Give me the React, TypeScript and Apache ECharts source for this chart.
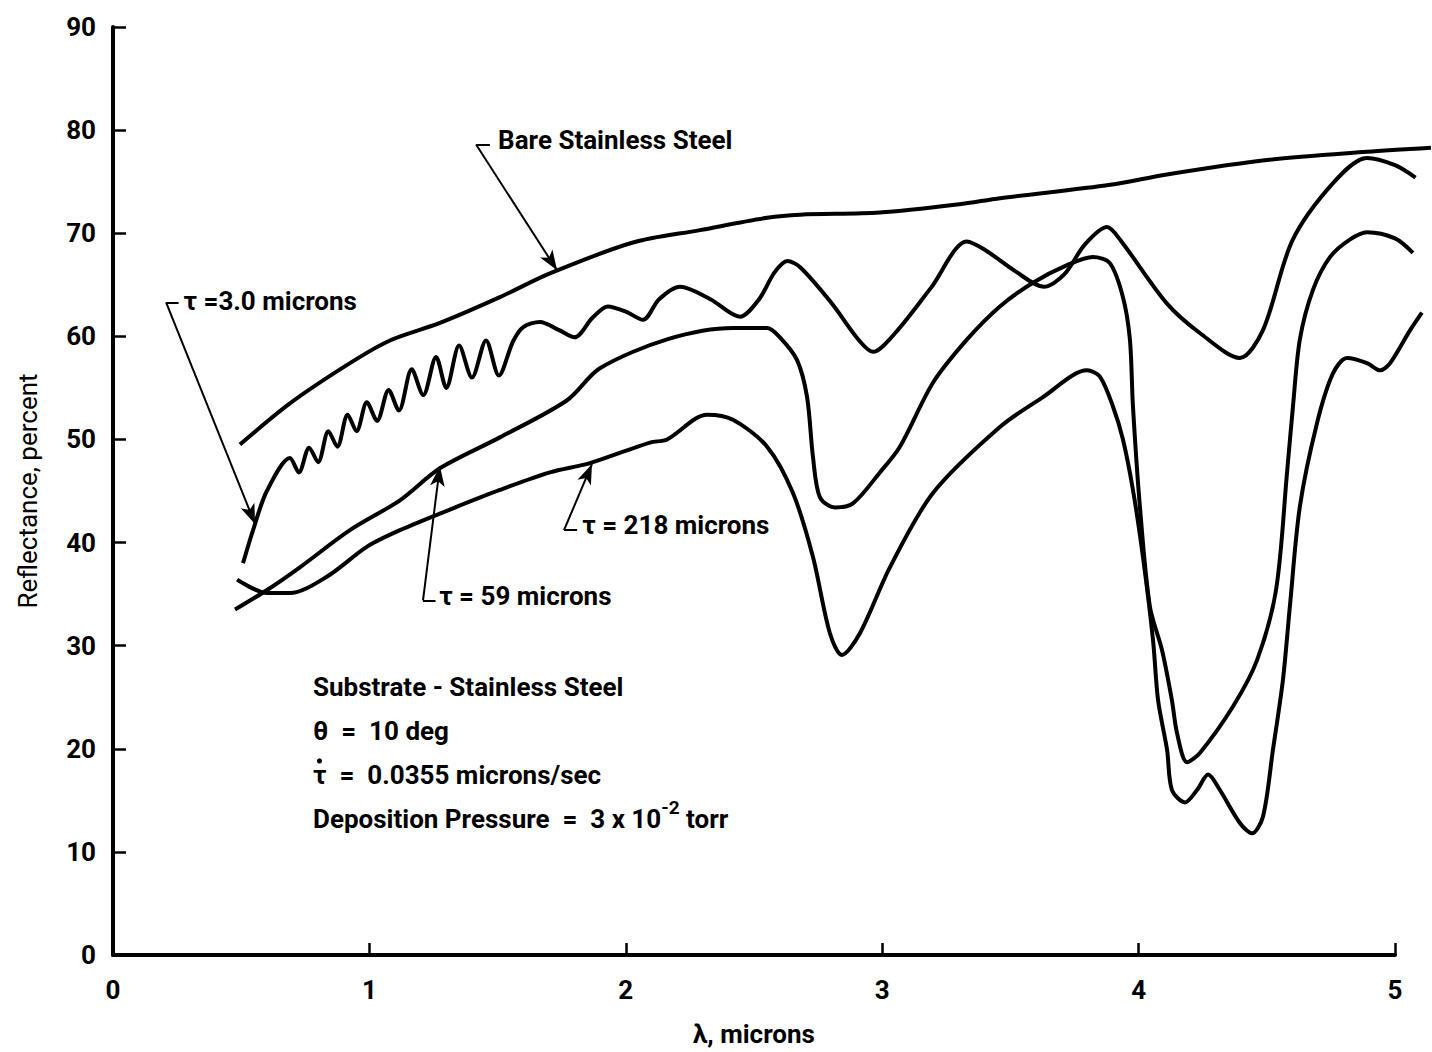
import React, { useEffect, useRef } from "react";
import * as echarts from "echarts";

// Wavelength (microns) vs reflectance (percent)
const bareSteel: [number, number][] = [
  [0.495, 49.5], [0.69, 53.5], [0.924, 57.4], [1.08, 59.6], [1.275, 61.3],
  [1.509, 63.8], [1.704, 66.1], [2.028, 69.1], [2.289, 70.3], [2.551, 71.5],
  [2.68, 71.8], [2.99, 72.0], [3.3, 72.8], [3.46, 73.4], [3.89, 74.7],
  [4.11, 75.7], [4.5, 77.1], [4.89, 77.9], [5.14, 78.3],
];

const tau3: [number, number][] = [
  [0.507, 38.0], [0.55, 41.5], [0.6, 45.0], [0.69, 48.2], [0.725, 46.8],
  [0.765, 49.2], [0.8, 47.8], [0.84, 50.8], [0.875, 49.3], [0.915, 52.4],
  [0.95, 50.8], [0.99, 53.6], [1.03, 51.8], [1.075, 54.8], [1.115, 52.8],
  [1.165, 56.8], [1.21, 54.3], [1.26, 58.0], [1.3, 55.0], [1.35, 59.1],
  [1.4, 56.0], [1.455, 59.6], [1.505, 56.2], [1.56, 59.5], [1.6, 60.9],
  [1.665, 61.4], [1.74, 60.6], [1.8, 59.9], [1.87, 61.8], [1.93, 62.9],
  [2.0, 62.4], [2.067, 61.6], [2.13, 63.6], [2.211, 64.8], [2.33, 63.6],
  [2.445, 61.9], [2.52, 63.6], [2.58, 66.2], [2.63, 67.3], [2.68, 66.7],
  [2.8, 63.3], [2.91, 59.6], [2.964, 58.5], [3.05, 60.3], [3.19, 64.7],
  [3.33, 69.2], [3.4, 68.4], [3.52, 66.3], [3.63, 64.8], [3.71, 66.0],
  [3.79, 68.9], [3.877, 70.6], [3.93, 69.3], [4.11, 63.2], [4.24, 60.3],
  [4.395, 57.9], [4.485, 60.6], [4.6, 69.3], [4.76, 74.9], [4.89, 77.3],
  [5.0, 76.6], [5.08, 75.4],
];

const tau59: [number, number][] = [
  [0.476, 33.5], [0.601, 35.4], [0.729, 37.6], [0.924, 41.2], [1.119, 44.1],
  [1.275, 47.2], [1.509, 50.2], [1.771, 53.8], [1.899, 56.9], [2.161, 59.7],
  [2.418, 60.8], [2.551, 60.8], [2.601, 59.9], [2.668, 57.7], [2.707, 54.1],
  [2.73, 48.3], [2.757, 44.4], [2.816, 43.4], [2.886, 43.8], [2.991, 46.8],
  [3.069, 49.3], [3.198, 55.5], [3.331, 59.7], [3.459, 62.9], [3.588, 65.2],
  [3.721, 66.9], [3.822, 67.7], [3.888, 67.1], [3.939, 63.8], [3.966, 59.7],
  [3.978, 53.2], [4.005, 43.5], [4.044, 33.8], [4.091, 29.6], [4.13, 24.7],
  [4.15, 21.5], [4.189, 18.7], [4.239, 19.6], [4.368, 24.1], [4.462, 28.6],
  [4.536, 35.4], [4.579, 46.8], [4.602, 53.2], [4.629, 59.7], [4.68, 64.5],
  [4.747, 67.7], [4.825, 69.4], [4.891, 70.1], [5.0, 69.5], [5.07, 68.1],
];

const tau218: [number, number][] = [
  [0.484, 36.4], [0.601, 35.1], [0.69, 35.1], [0.835, 36.7], [0.991, 39.6],
  [1.119, 41.2], [1.314, 43.2], [1.509, 45.1], [1.704, 46.8], [1.86, 47.7],
  [2.094, 49.7], [2.161, 50.0], [2.317, 52.4], [2.418, 51.9], [2.551, 49.3],
  [2.652, 44.8], [2.73, 38.6], [2.796, 31.2], [2.843, 29.1], [2.913, 31.2],
  [3.03, 37.6], [3.198, 44.8], [3.459, 51.2], [3.627, 54.1], [3.799, 56.7],
  [3.849, 56.1], [3.9, 53.2], [3.939, 50.0], [3.978, 45.1], [4.017, 38.6],
  [4.056, 30.6], [4.076, 24.7], [4.111, 19.9], [4.13, 16.0], [4.181, 14.8],
  [4.228, 16.0], [4.271, 17.5], [4.317, 16.0], [4.395, 12.8], [4.442, 11.8],
  [4.485, 13.4], [4.524, 19.9], [4.563, 26.7], [4.59, 33.8], [4.629, 43.5],
  [4.696, 51.6], [4.758, 56.4], [4.813, 57.9], [4.891, 57.4], [4.942, 56.7],
  [4.981, 57.4], [5.059, 60.6], [5.105, 62.3],
];

const xTickValues = [0, 1, 2, 3, 4, 5];
const yTickValues = [0, 10, 20, 30, 40, 50, 60, 70, 80, 90];

// Curve labels with leader lines (data coordinates)
const curveLabels = [
  { text: "Bare Stainless Steel", at: [1.502, 79.0], corner: [1.416, 78.6], tickEnd: [1.47, 78.6], tip: [1.732, 66.4] },
  { text: "τ =3.0 microns", at: [0.275, 63.4], corner: [0.207, 63.3], tickEnd: [0.256, 63.3], tip: [0.554, 41.8] },
  { text: "τ = 59 microns", at: [1.272, 34.8], corner: [1.209, 34.4], tickEnd: [1.258, 34.4], tip: [1.275, 47.4] },
  { text: "τ = 218 microns", at: [1.83, 41.7], corner: [1.759, 41.2], tickEnd: [1.81, 41.2], tip: [1.868, 47.6] },
];

const conditions = [
  "Substrate - Stainless Steel",
  "θ  =  10 deg",
  "τ  =  0.0355 microns/sec",
];
const pressureLine = "Deposition Pressure  =  3 x 10{sup|-2} torr";

const FONT = "Roboto, 'Liberation Sans', sans-serif";

// grid geometry
const PLOT_LEFT = 113;
const PLOT_RIGHT_GAP = 37;
const PAGE_W = 1432;
const X_MAX = 5;
const X_MAX_WIDE = (X_MAX * (PAGE_W - PLOT_LEFT)) / (PAGE_W - PLOT_LEFT - PLOT_RIGHT_GAP);

export default function App() {
  const ref = useRef<HTMLDivElement>(null);
  useEffect(() => {
    if (!ref.current) return;
    const chart = echarts.init(ref.current, null, { renderer: "svg" });
    const curve = (name: string, data: [number, number][]) => ({
      name,
      type: "line",
      xAxisIndex: 1,
      yAxisIndex: 1,
      data,
      showSymbol: false,
      smooth: 0.3,
      clip: false,
      lineStyle: { color: "#000", width: 4 },
      z: 3,
    });
    const leaderData: any[] = [];
    curveLabels.forEach((c) => {
      leaderData.push([
        { coord: c.corner, symbol: "none" },
        { coord: c.tickEnd, symbol: "none" },
      ]);
      leaderData.push([
        { coord: c.corner, symbol: "none" },
        { coord: c.tip, symbol: "arrow", symbolSize: [11, 20] },
      ]);
    });
    const series: any[] = [
      curve("Bare Stainless Steel", bareSteel),
      curve("τ = 3.0 microns", tau3),
      curve("τ = 59 microns", tau59),
      curve("τ = 218 microns", tau218),
    ];
    series[0].markLine = {
      silent: true,
      animation: false,
      label: { show: false },
      lineStyle: { color: "#000", width: 2, type: "solid" },
      emphasis: { disabled: true },
      data: leaderData,
    };
    const hiddenAxis = {
      show: false,
      axisLine: { show: false },
      axisTick: { show: false },
      axisLabel: { show: false },
      splitLine: { show: false },
    };
    chart.setOption({
      animation: false,
      backgroundColor: "#fff",
      grid: [
        { left: PLOT_LEFT, right: PLOT_RIGHT_GAP, top: 27, bottom: 97, containLabel: false },
        { left: PLOT_LEFT, right: 0, top: 27, bottom: 97, containLabel: false },
      ],
      xAxis: [
        {
          type: "value",
          gridIndex: 0,
          min: 0,
          max: X_MAX,
          interval: 1,
          name: "λ, microns",
          nameLocation: "middle",
          nameGap: 66,
          nameTextStyle: { fontFamily: FONT, fontSize: 26, fontWeight: "bold", color: "#000" },
          axisLine: { lineStyle: { color: "#000", width: 4 } },
          axisTick: { inside: true, length: 12, lineStyle: { color: "#000", width: 2.5 } },
          axisLabel: {
            margin: 22,
            fontFamily: FONT,
            fontSize: 26,
            fontWeight: "bold",
            color: "#000",
            formatter: (v: number) => (xTickValues.includes(v) ? String(v) : ""),
          },
          splitLine: { show: false },
        },
        { type: "value", gridIndex: 1, min: 0, max: X_MAX_WIDE, ...hiddenAxis },
      ],
      yAxis: [
        {
          type: "value",
          gridIndex: 0,
          min: 0,
          max: 90,
          interval: 10,
          name: "Reflectance, percent",
          nameLocation: "middle",
          nameRotate: 90,
          nameGap: 72,
          nameTextStyle: { fontFamily: FONT, fontSize: 26, color: "#000" },
          axisLine: { lineStyle: { color: "#000", width: 4 } },
          axisTick: { inside: true, length: 13, lineStyle: { color: "#000", width: 2.5 } },
          axisLabel: {
            margin: 17,
            fontFamily: FONT,
            fontSize: 26,
            fontWeight: "bold",
            color: "#000",
            formatter: (v: number) => (yTickValues.includes(v) ? String(v) : ""),
          },
          splitLine: { show: false },
        },
        { type: "value", gridIndex: 1, min: 0, max: 90, ...hiddenAxis },
      ],
      series,
    });

    const toPx = (p: number[]) =>
      chart.convertToPixel({ xAxisIndex: 1, yAxisIndex: 1 }, p) as number[];
    const baseStyle = {
      fontFamily: FONT,
      fontSize: 26,
      fontWeight: "bold",
      fill: "#000",
      verticalAlign: "middle",
    };
    const graphics: any[] = curveLabels.map((c) => {
      const [x, y] = toPx(c.at);
      return { type: "text", x, y, silent: true, style: { ...baseStyle, text: c.text } };
    });
    const lineGap = 44;
    const [bx, by] = toPx([0.78, 26.0]);
    conditions.forEach((t, i) => {
      graphics.push({
        type: "text",
        x: bx,
        y: by + i * lineGap,
        silent: true,
        style: { ...baseStyle, text: t },
      });
    });
    // dot over tau (rate of deposition)
    graphics.push({
      type: "circle",
      silent: true,
      shape: { cx: bx + 6.5, cy: by + 2 * lineGap - 14, r: 2.6 },
      style: { fill: "#000" },
    });
    graphics.push({
      type: "text",
      x: bx,
      y: by + 3 * lineGap,
      silent: true,
      style: {
        ...baseStyle,
        text: pressureLine,
        rich: {
          sup: { fontFamily: FONT, fontSize: 19, fontWeight: "bold", fill: "#000", padding: [0, 0, 22, 0] },
        },
      },
    });
    chart.setOption({ graphic: graphics });
    return () => chart.dispose();
  }, []);
  return (
    <div
      ref={ref}
      style={{ position: "absolute", left: 0, top: 0, width: PAGE_W, height: 1052, background: "#fff" }}
    />
  );
}
